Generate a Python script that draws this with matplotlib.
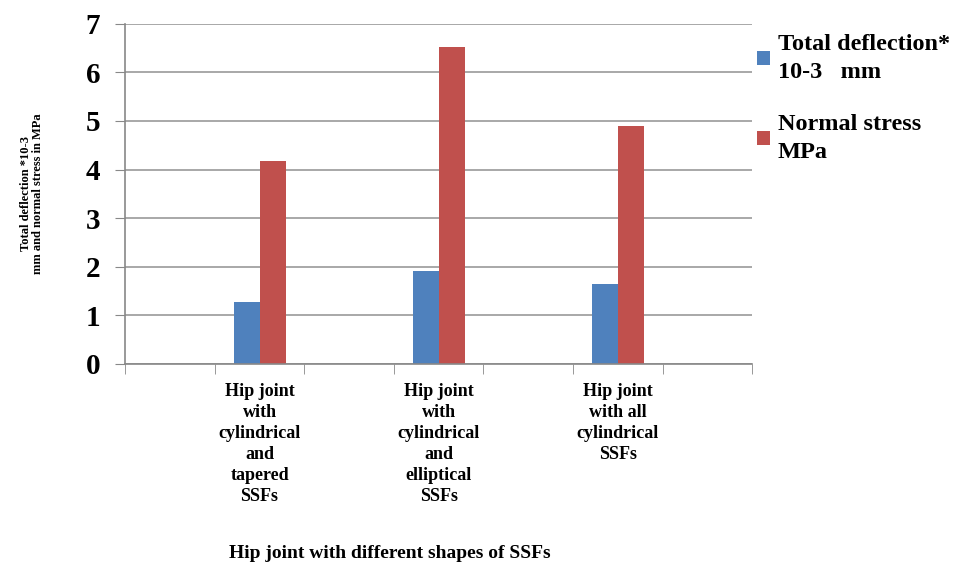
import numpy as np
import matplotlib
matplotlib.use("Agg")
import matplotlib.pyplot as plt

# 7 category slots, the chart leaves every other slot empty
categories = ["", "Hip joint\nwith\ncylindrical\nand\ntapered\nSSFs", "",
              "Hip joint\nwith\ncylindrical\nand\nelliptical\nSSFs", "",
              "Hip joint\nwith all\ncylindrical\nSSFs", ""]
deflection = [np.nan, 1.27, np.nan, 1.92, np.nan, 1.65, np.nan]
normal_stress = [np.nan, 4.17, np.nan, 6.53, np.nan, 4.89, np.nan]
series_names = ["Total deflection*\n10-3   mm", "Normal stress\nMPa"]

plt.rcParams['font.family'] = ['Liberation Serif', 'DejaVu Serif']
plt.rcParams['font.weight'] = 'bold'

fig = plt.figure(figsize=(9.63, 5.65), dpi=100)
ax = fig.add_axes([0.130, 0.356, 0.651, 0.602])

x = np.arange(len(categories))
w = 0.29
ax.bar(x - w / 2, deflection, w, color='#4F81BD', label=series_names[0])
ax.bar(x + w / 2, normal_stress, w, color='#C0504D', label=series_names[1])

ax.set_xlim(-0.5, len(categories) - 0.5)
ax.set_ylim(0, 7)
ax.set_yticks(range(8))
ax.tick_params(axis='y', labelsize=21, length=7, color='#888888', pad=11)
ax.yaxis.grid(True, color='#999999', linewidth=1.2)
ax.set_axisbelow(True)

# category labels in the middle, tick marks on the boundaries
ax.set_xticks(x)
ax.set_xticklabels(categories, fontsize=13, linespacing=1.3, va='top')
ax.tick_params(axis='x', length=0, pad=14)
ax.set_xticks(np.arange(-0.5, len(categories)), minor=True)
ax.tick_params(axis='x', which='minor', length=7, color='#888888')

for s in ['top', 'right']:
    ax.spines[s].set_visible(False)
for s in ['left', 'bottom']:
    ax.spines[s].set_color('#888888')
    ax.spines[s].set_linewidth(1.2)

ax.set_ylabel("Total deflection *10-3\nmm and normal stress in MPa",
              fontsize=9, fontweight='bold', labelpad=30, linespacing=1.0)

leg = fig.legend(loc='upper left', bbox_to_anchor=(0.7635, 0.978), frameon=False,
                 fontsize=17.5, handlelength=0.55, handleheight=0.55,
                 handletextpad=0.3, labelspacing=1.3)
for t in leg.get_texts():
    t.set_linespacing(1.4)

fig.text(0.405, 0.012, "Hip joint with different shapes of SSFs",
         ha='center', fontsize=14, fontweight='bold')

fig.savefig("out.png", dpi=100)
